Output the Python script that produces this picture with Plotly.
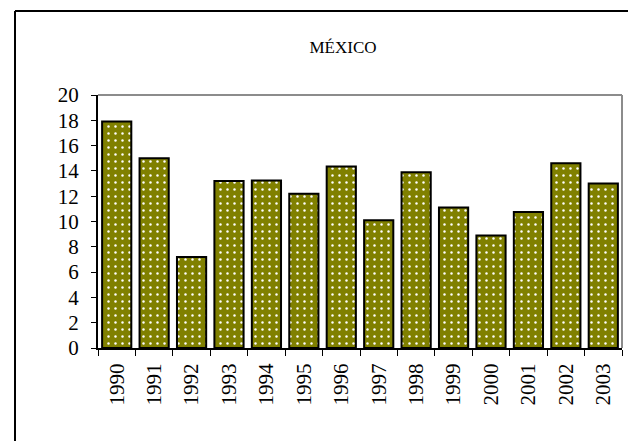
import plotly.graph_objects as go

years = ["1990", "1991", "1992", "1993", "1994", "1995", "1996",
         "1997", "1998", "1999", "2000", "2001", "2002", "2003"]
values = [17.9, 15.0, 7.2, 13.2, 13.25, 12.2, 14.35,
          10.1, 13.9, 11.1, 8.9, 10.75, 14.6, 13.0]
y_ticks = [0, 2, 4, 6, 8, 10, 12, 14, 16, 18, 20]
title_text = "MÉXICO"

font_family = "Liberation Serif"

# page body has an 8px margin, so positions are shifted by 8px
OFF = 8
L, T, R, B = 98 - OFF, 95 - OFF, 622 - OFF, 348 - OFF
W, H = 636, 441
PW, PH = R - L, B - T

fig = go.Figure(go.Bar(
    x=years, y=values,
    marker=dict(
        color="#808000",
        line=dict(color="black", width=2),
        pattern=dict(shape=".", fgcolor="white", bgcolor="#808000",
                     size=7, solidity=0.1, fillmode="replace"),
    ),
    width=0.78,
))

fig.update_layout(
    width=W, height=H,
    margin=dict(l=L, r=W - R, t=T, b=H - B, autoexpand=False),
    paper_bgcolor="white", plot_bgcolor="white",
    showlegend=False,
    font=dict(family=font_family, color="black", size=21),
    title=dict(text=title_text, x=(343 - OFF) / W, xanchor="center",
               y=1 - (47 - OFF) / H, yanchor="middle",
               font=dict(family=font_family, size=17, color="black")),
    xaxis=dict(type="category", tickson="boundaries", ticks="outside",
               ticklen=6, tickcolor="black", tickwidth=1,
               showline=True, linecolor="black", linewidth=2,
               tickangle=-90, showgrid=False, ticklabelstandoff=5,
               tickfont=dict(family=font_family, size=21)),
    yaxis=dict(range=[0, 20], tickvals=y_ticks, ticks="outside",
               ticklen=5, tickcolor="black", tickwidth=1,
               showline=True, linecolor="black", linewidth=2,
               showgrid=False, zeroline=False, ticklabelstandoff=8,
               tickfont=dict(family=font_family, size=21)),
    shapes=[
        dict(type="line", xref="paper", yref="paper", x0=0, x1=1, y0=1, y1=1,
             line=dict(color="#8c8c8c", width=2), layer="below"),
        dict(type="line", xref="paper", yref="paper", x0=1, x1=1, y0=0, y1=1,
             line=dict(color="#8c8c8c", width=2), layer="below"),
        dict(type="line", xref="paper", yref="paper",
             x0=(15 - OFF - L) / PW, x1=1.3,
             y0=(B - (11 - OFF)) / PH, y1=(B - (11 - OFF)) / PH,
             line=dict(color="black", width=2)),
        dict(type="line", xref="paper", yref="paper",
             x0=(15 - OFF - L) / PW, x1=(15 - OFF - L) / PW,
             y0=(B - (11 - OFF)) / PH, y1=-0.6,
             line=dict(color="black", width=2)),
    ],
)

fig.write_html("out.html")
